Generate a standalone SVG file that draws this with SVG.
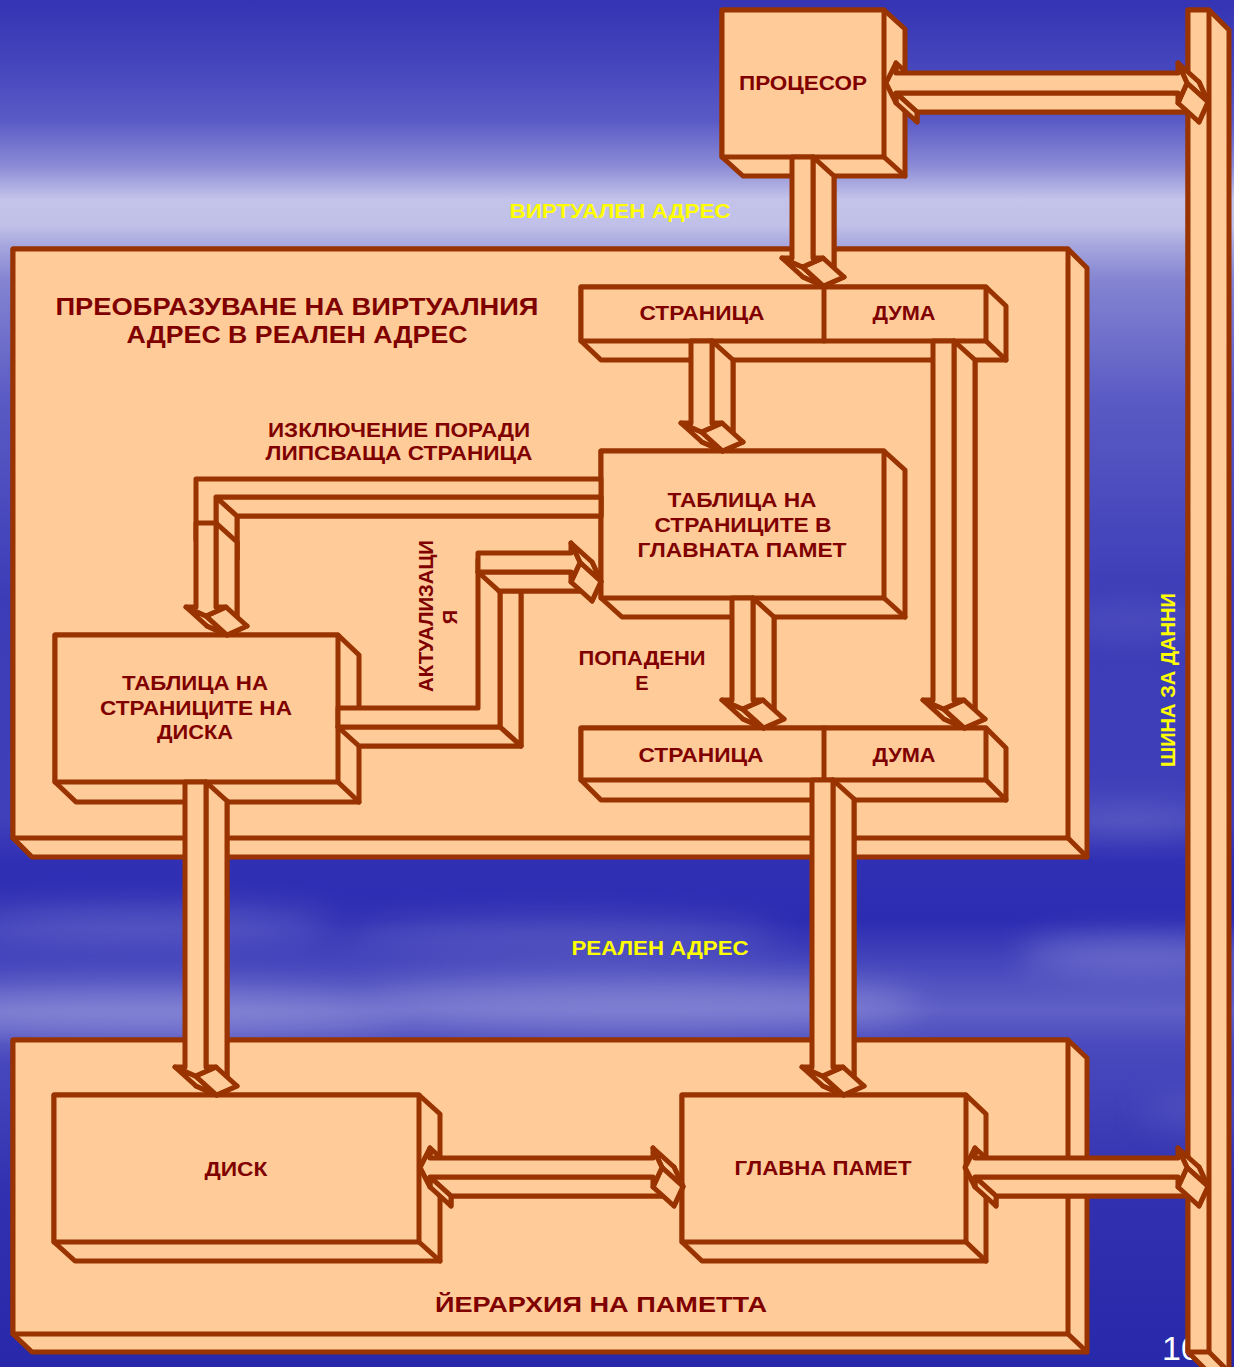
<svg xmlns="http://www.w3.org/2000/svg" width="1234" height="1367" viewBox="0 0 1234 1367">
<defs>
<linearGradient id="sky" x1="0" y1="0" x2="0" y2="1367" gradientUnits="userSpaceOnUse">
<stop offset="0" stop-color="#3434b4"/>
<stop offset="0.044" stop-color="#4444bc"/>
<stop offset="0.088" stop-color="#5a5ac6"/>
<stop offset="0.121" stop-color="#8a8ad6"/>
<stop offset="0.146" stop-color="#c4c4ea"/>
<stop offset="0.165" stop-color="#c0c0e8"/>
<stop offset="0.180" stop-color="#a6a6de"/>
<stop offset="0.205" stop-color="#8484d2"/>
<stop offset="0.293" stop-color="#5a5ac4"/>
<stop offset="0.439" stop-color="#3c3cb8"/>
<stop offset="0.600" stop-color="#4040ba"/>
<stop offset="0.629" stop-color="#3030b4"/>
<stop offset="0.673" stop-color="#2c2cb2"/>
<stop offset="0.710" stop-color="#4a4abe"/>
<stop offset="0.739" stop-color="#6060c6"/>
<stop offset="0.764" stop-color="#4a4abe"/>
<stop offset="0.878" stop-color="#3030b0"/>
<stop offset="1" stop-color="#2828aa"/>
</linearGradient>
<filter id="blur" x="-30%" y="-100%" width="160%" height="300%"><feGaussianBlur stdDeviation="16"/></filter>
<style>
.f{fill:#FFCC99;stroke:#993300;stroke-width:5;stroke-linejoin:round}
.n{fill:none;stroke:#993300;stroke-width:5;stroke-linecap:round}
.t{font-family:"Liberation Sans",Arial,sans-serif;font-weight:bold;fill:#800000;font-size:20px;text-anchor:middle}
.y{fill:#FFFF00}
</style>
</defs>

<g id="background">
<rect x="0" y="0" width="1234" height="1367" fill="url(#sky)"/>
<g filter="url(#blur)" opacity="0.45">
<ellipse cx="140" cy="925" rx="200" ry="16" fill="#9a9ade"/>
<ellipse cx="150" cy="1015" rx="260" ry="24" fill="#b0b0e6"/>
<ellipse cx="640" cy="1005" rx="280" ry="26" fill="#a8a8e2"/>
<ellipse cx="560" cy="935" rx="220" ry="16" fill="#8282d2"/>
<ellipse cx="1140" cy="955" rx="120" ry="18" fill="#a0a0e0"/>
<ellipse cx="1130" cy="820" rx="80" ry="12" fill="#8a8ad6"/>
<ellipse cx="1130" cy="620" rx="80" ry="14" fill="#6a6ac8"/>
<ellipse cx="1200" cy="1110" rx="60" ry="14" fill="#6a6ac8"/>
</g>
</g>

<text id="page-number" x="1162" y="1360" font-family="Liberation Sans, Arial, sans-serif" font-size="34" fill="#ffffff">10</text>

<g id="panel-translation">
<polygon class="f" points="13,249 1068,249 1087,268 1087,857 32,857 13,838"/>
<rect class="f" x="13" y="249" width="1055" height="589"/>
<line class="n" x1="1068" y1="838" x2="1087" y2="857"/>
<text class="t" x="297" y="315" textLength="483" lengthAdjust="spacingAndGlyphs" style="font-size:24px">ПРЕОБРАЗУВАНЕ НА ВИРТУАЛНИЯ</text>
<text class="t" x="297" y="343" textLength="341" lengthAdjust="spacingAndGlyphs" style="font-size:24px">АДРЕС В РЕАЛЕН АДРЕС</text>
<text class="t" x="399" y="437" textLength="262" lengthAdjust="spacingAndGlyphs">ИЗКЛЮЧЕНИЕ ПОРАДИ</text>
<text class="t" x="399" y="460" textLength="267" lengthAdjust="spacingAndGlyphs">ЛИПСВАЩА СТРАНИЦА</text>
<text class="t" x="642" y="665" textLength="127" lengthAdjust="spacingAndGlyphs">ПОПАДЕНИ</text>
<text class="t" x="642" y="690">Е</text>
<text class="t" transform="translate(433,616) rotate(-90)" x="0" y="0" textLength="152" lengthAdjust="spacingAndGlyphs">АКТУАЛИЗАЦИ</text>
<text class="t" transform="translate(457,617) rotate(-90)" x="0" y="0">Я</text>
</g>

<g id="panel-hierarchy">
<polygon class="f" points="13,1040 1068,1040 1087,1058 1087,1352 32,1352 13,1334"/>
<rect class="f" x="13" y="1040" width="1055" height="294"/>
<line class="n" x1="1068" y1="1334" x2="1087" y2="1352"/>
<text class="t" x="601" y="1312" textLength="332" lengthAdjust="spacingAndGlyphs" style="font-size:22px">ЙЕРАРХИЯ НА ПАМЕТТА</text>
</g>

<g id="data-bus">
<polygon class="f" points="1188,10 1209,10 1229,30 1229,1372 1208,1372 1188,1352"/>
<rect class="f" x="1188" y="10" width="21" height="1342"/>
<line class="n" x1="1209" y1="1352" x2="1229" y2="1372"/>
<text class="t y" transform="translate(1175,680) rotate(-90)" x="0" y="0" textLength="174" lengthAdjust="spacingAndGlyphs" style="font-size:21px">ШИНА ЗА ДАННИ</text>
</g>

<g id="processor">
<polygon class="f" points="722,10 884,10 905,29 905,176 743,176 722,157"/>
<rect class="f" x="722" y="10" width="162" height="147"/>
<line class="n" x1="884" y1="157" x2="905" y2="176"/>
<text class="t" x="803" y="90" textLength="128" lengthAdjust="spacingAndGlyphs" style="font-size:21px">ПРОЦЕСОР</text>
</g>

<g id="virtual-address">
<polygon class="f" points="581,287 986,287 1006,306 1006,360 601,360 581,341"/>
<rect class="f" x="581" y="287" width="405" height="54"/>
<line class="n" x1="986" y1="341" x2="1006" y2="360"/>
<line class="n" x1="824" y1="287" x2="824" y2="341"/>
<text class="t" x="702" y="320" textLength="125" lengthAdjust="spacingAndGlyphs">СТРАНИЦА</text>
<text class="t" x="904" y="320" textLength="63" lengthAdjust="spacingAndGlyphs">ДУМА</text>
</g>

<g id="page-table-main">
<polygon class="f" points="601,451 884,451 905,470 905,617 622,617 601,598"/>
<rect class="f" x="601" y="451" width="283" height="147"/>
<line class="n" x1="884" y1="598" x2="905" y2="617"/>
<text class="t" x="742" y="507" textLength="149" lengthAdjust="spacingAndGlyphs">ТАБЛИЦА НА</text>
<text class="t" x="743" y="532" textLength="177" lengthAdjust="spacingAndGlyphs">СТРАНИЦИТЕ В</text>
<text class="t" x="742" y="557" textLength="209" lengthAdjust="spacingAndGlyphs">ГЛАВНАТА ПАМЕТ</text>
</g>

<g id="real-address">
<polygon class="f" points="581,728 986,728 1006,748 1006,800 601,800 581,780"/>
<rect class="f" x="581" y="728" width="405" height="52"/>
<line class="n" x1="986" y1="780" x2="1006" y2="800"/>
<line class="n" x1="824" y1="728" x2="824" y2="780"/>
<text class="t" x="701" y="762" textLength="125" lengthAdjust="spacingAndGlyphs">СТРАНИЦА</text>
<text class="t" x="904" y="762" textLength="63" lengthAdjust="spacingAndGlyphs">ДУМА</text>
</g>

<g id="page-table-disk">
<polygon class="f" points="55,635 338,635 359,655 359,802 76,802 55,782"/>
<rect class="f" x="55" y="635" width="283" height="147"/>
<line class="n" x1="338" y1="782" x2="359" y2="802"/>
<text class="t" x="195" y="690" textLength="146" lengthAdjust="spacingAndGlyphs">ТАБЛИЦА НА</text>
<text class="t" x="196" y="715" textLength="192" lengthAdjust="spacingAndGlyphs">СТРАНИЦИТЕ НА</text>
<text class="t" x="195" y="739" textLength="76" lengthAdjust="spacingAndGlyphs">ДИСКА</text>
</g>

<g id="disk">
<polygon class="f" points="54,1095 419,1095 440,1114 440,1261 75,1261 54,1242"/>
<rect class="f" x="54" y="1095" width="365" height="147"/>
<line class="n" x1="419" y1="1242" x2="440" y2="1261"/>
<text class="t" x="236" y="1176" textLength="63" lengthAdjust="spacingAndGlyphs">ДИСК</text>
</g>

<g id="main-memory">
<polygon class="f" points="682,1095 966,1095 986,1114 986,1261 702,1261 682,1242"/>
<rect class="f" x="682" y="1095" width="284" height="147"/>
<line class="n" x1="966" y1="1242" x2="986" y2="1261"/>
<text class="t" x="823" y="1175" textLength="177" lengthAdjust="spacingAndGlyphs">ГЛАВНА ПАМЕТ</text>
</g>

<g id="labels">
<text class="t y" x="620" y="218" textLength="221" lengthAdjust="spacingAndGlyphs" style="font-size:21px">ВИРТУАЛЕН АДРЕС</text>
<text class="t y" x="660" y="955" textLength="177" lengthAdjust="spacingAndGlyphs" style="font-size:21px">РЕАЛЕН АДРЕС</text>
</g>

<g id="connectors">
<g>
<polygon class="f" points="601,498 217,498 217,559 237,559 237,516 601,516"/>
<polygon class="f" points="216,497 216,540 237,559 237,516"/>
<polygon class="f" points="216,497 601,497 601,516 237,516"/>
<polygon class="f" points="601,479 196,479 196,540 216,540 216,497 601,497"/>
</g>
<g>
<polygon class="f" points="217,542 237,542 237,626 247,626 227,635 207,626 217,626"/>
<polygon class="f" points="186,607 206,616 227,635 207,626"/>
<polygon class="f" points="216,523 216,607 237,626 237,542"/>
<polygon class="f" points="226,607 206,616 227,635 247,626"/>
<polygon class="f" points="196,523 216,523 216,607 226,607 206,616 186,607 196,607"/>
</g>
<g>
<polygon class="f" points="359,727 499,727 499,579 521,579 521,746 359,746"/>
<polygon class="f" points="500,560 500,727 521,746 521,579"/>
<polygon class="f" points="338,727 500,727 521,746 359,746"/>
<polygon class="f" points="338,708 478,708 478,560 500,560 500,727 338,727"/>
</g>
<g>
<polygon class="f" points="499,572 592,572 592,562 601,581.5 592,601 592,591 499,591"/>
<polygon class="f" points="478,572 571,572 592,591 499,591"/>
<polygon class="f" points="571,543 580,562.5 601,581.5 592,562"/>
<polygon class="f" points="580,562.5 571,582 592,601 601,581.5"/>
<polygon class="f" points="478,553 571,553 571,543 580,562.5 571,582 571,572 478,572"/>
</g>
<g>
<polygon class="f" points="813,176 834,176 834,277 844,277 823.5,286 803,277 813,277"/>
<polygon class="f" points="782,258 802.5,267 823.5,286 803,277"/>
<polygon class="f" points="813,157 813,258 834,277 834,176"/>
<polygon class="f" points="823,258 802.5,267 823.5,286 844,277"/>
<polygon class="f" points="792,157 813,157 813,258 823,258 802.5,267 782,258 792,258"/>
</g>
<g>
<polygon class="f" points="712,360 733,360 733,442 743,442 722.5,451 702,442 712,442"/>
<polygon class="f" points="681,423 701.5,432 722.5,451 702,442"/>
<polygon class="f" points="712,341 712,423 733,442 733,360"/>
<polygon class="f" points="722,423 701.5,432 722.5,451 743,442"/>
<polygon class="f" points="691,341 712,341 712,423 722,423 701.5,432 681,423 691,423"/>
</g>
<g>
<polygon class="f" points="954,360 975,360 975,719 985,719 964.5,728 944,719 954,719"/>
<polygon class="f" points="923,700 943.5,709 964.5,728 944,719"/>
<polygon class="f" points="954,341 954,700 975,719 975,360"/>
<polygon class="f" points="964,700 943.5,709 964.5,728 985,719"/>
<polygon class="f" points="933,341 954,341 954,700 964,700 943.5,709 923,700 933,700"/>
</g>
<g>
<polygon class="f" points="753,617 774,617 774,719 784,719 763.5,728 743,719 753,719"/>
<polygon class="f" points="722,700 742.5,709 763.5,728 743,719"/>
<polygon class="f" points="753,598 753,700 774,719 774,617"/>
<polygon class="f" points="763,700 742.5,709 763.5,728 784,719"/>
<polygon class="f" points="732,598 753,598 753,700 763,700 742.5,709 722,700 732,700"/>
</g>
<g>
<polygon class="f" points="206,801 227,801 227,1086 237,1086 216.5,1095 196,1086 206,1086"/>
<polygon class="f" points="175,1067 195.5,1076 216.5,1095 196,1086"/>
<polygon class="f" points="206,782 206,1067 227,1086 227,801"/>
<polygon class="f" points="216,1067 195.5,1076 216.5,1095 237,1086"/>
<polygon class="f" points="185,782 206,782 206,1067 216,1067 195.5,1076 175,1067 185,1067"/>
</g>
<g>
<polygon class="f" points="833,799 854,799 854,1086 864,1086 843.5,1095 823,1086 833,1086"/>
<polygon class="f" points="802,1067 822.5,1076 843.5,1095 823,1086"/>
<polygon class="f" points="833,780 833,1067 854,1086 854,799"/>
<polygon class="f" points="843,1067 822.5,1076 843.5,1095 864,1086"/>
<polygon class="f" points="812,780 833,780 833,1067 843,1067 822.5,1076 802,1067 812,1067"/>
</g>
<g>
<polygon class="f" points="907,102 917,82 917,92 1199,92 1199,82 1208,102 1199,122 1199,112 917,112 917,122"/>
<polygon class="f" points="896,63 896,73 917,92 917,82"/>
<polygon class="f" points="896,93 1178,93 1199,112 917,112"/>
<polygon class="f" points="896,93 896,103 917,122 917,112"/>
<polygon class="f" points="1178,63 1187,83 1208,102 1199,82"/>
<polygon class="f" points="1187,83 1178,103 1199,122 1208,102"/>
<polygon class="f" points="886,83 896,63 896,73 1178,73 1178,63 1187,83 1178,103 1178,93 896,93 896,103"/>
</g>
<g>
<polygon class="f" points="441,1186.5 451,1167 451,1177 674,1177 674,1167 683,1186.5 674,1206 674,1196 451,1196 451,1206"/>
<polygon class="f" points="430,1148 430,1158 451,1177 451,1167"/>
<polygon class="f" points="430,1177 653,1177 674,1196 451,1196"/>
<polygon class="f" points="430,1177 430,1187 451,1206 451,1196"/>
<polygon class="f" points="653,1148 662,1167.5 683,1186.5 674,1167"/>
<polygon class="f" points="662,1167.5 653,1187 674,1206 683,1186.5"/>
<polygon class="f" points="420,1167.5 430,1148 430,1158 653,1158 653,1148 662,1167.5 653,1187 653,1177 430,1177 430,1187"/>
</g>
<g>
<polygon class="f" points="986,1186.5 996,1167 996,1177 1199,1177 1199,1167 1208,1186.5 1199,1206 1199,1196 996,1196 996,1206"/>
<polygon class="f" points="975,1148 975,1158 996,1177 996,1167"/>
<polygon class="f" points="975,1177 1178,1177 1199,1196 996,1196"/>
<polygon class="f" points="975,1177 975,1187 996,1206 996,1196"/>
<polygon class="f" points="1178,1148 1187,1167.5 1208,1186.5 1199,1167"/>
<polygon class="f" points="1187,1167.5 1178,1187 1199,1206 1208,1186.5"/>
<polygon class="f" points="965,1167.5 975,1148 975,1158 1178,1158 1178,1148 1187,1167.5 1178,1187 1178,1177 975,1177 975,1187"/>
</g>
</g>
</svg>
